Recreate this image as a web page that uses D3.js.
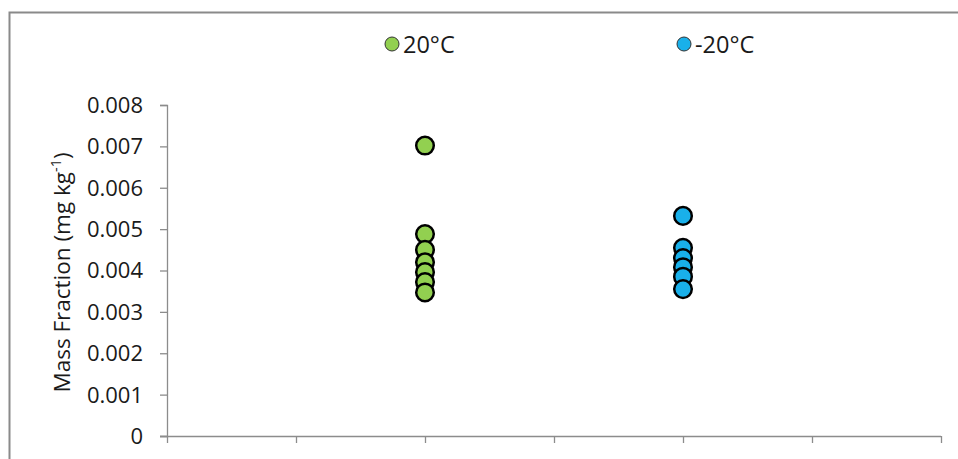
<!DOCTYPE html>
<html>
<head>
<meta charset="utf-8">
<script src="https://cdn.jsdelivr.net/npm/d3@7"></script>
<style>
  html, body { margin: 0; padding: 0; background: #fff; }
  svg { display: block; }
  text { font-family: "Open Sans", "Noto Sans", sans-serif; fill: #1a1a1a; }
</style>
</head>
<body>
<svg id="chart" width="958" height="459"></svg>
<script>
// Mass fraction measurements at two storage temperatures
const seriesNames = ["20°C", "-20°C"];
const seriesX = [2, 4];
const warmValues = [0.00702, 0.00488, 0.00450, 0.00420, 0.00396, 0.00372, 0.00347];
const coldValues = [0.00532, 0.00455, 0.00430, 0.00408, 0.00385, 0.00355];
const seriesColors = ["#92d050", "#19b0ea"];
const yTicks = [0, 0.001, 0.002, 0.003, 0.004, 0.005, 0.006, 0.007, 0.008];
const xTicks = [0, 1, 2, 3, 4, 5, 6];

const svg = d3.select("#chart");
const axisColor = "#8c8c8c";

// chart frame
svg.append("path")
  .attr("d", "M9.5,459 V12.5 H958")
  .attr("fill", "none")
  .attr("stroke", "#8a8a8a")
  .attr("stroke-width", 2);

const plot = { left: 167, right: 941, top: 105, bottom: 436 };

const x = d3.scaleLinear().domain([0, 6]).range([plot.left, plot.right]);
const y = d3.scaleLinear().domain([0, 0.008]).range([plot.bottom, plot.top]);

// y axis
const yAxis = svg.append("g")
  .attr("transform", `translate(${plot.left},0)`)
  .call(d3.axisLeft(y).tickValues(yTicks).tickSize(7).tickPadding(17)
    .tickFormat(d => d === 0 ? "0" : d3.format(".3f")(d)));
yAxis.select(".domain").attr("stroke", axisColor).attr("stroke-width", 1.3);
yAxis.selectAll(".tick line").attr("stroke", axisColor).attr("stroke-width", 1.3);
yAxis.selectAll(".tick text")
  .attr("font-size", 22)
  .attr("font-family", "'Open Sans', sans-serif")
  .attr("fill", "#1a1a1a")
  .attr("dy", "0.34em");

// x axis (no labels)
const xAxis = svg.append("g")
  .attr("transform", `translate(0,${plot.bottom})`)
  .call(d3.axisBottom(x).tickValues(xTicks).tickSize(7).tickFormat(""));
xAxis.select(".domain").attr("stroke", axisColor).attr("stroke-width", 1.3)
  .attr("d", `M${plot.left - 7},0.5H${plot.right}`);
xAxis.selectAll(".tick line").attr("stroke", axisColor).attr("stroke-width", 1.3);

// y axis title
const title = svg.append("text")
  .attr("transform", `translate(70,${(plot.top + plot.bottom) / 2 + 2}) rotate(-90)`)
  .attr("text-anchor", "middle")
  .attr("font-size", 22.5);
title.append("tspan").text("Mass Fraction (mg kg");
title.append("tspan").attr("dy", -9).attr("font-size", 14.5).text("-1");
title.append("tspan").attr("dy", 9).text(")");

// points
const series = [warmValues, coldValues];
series.forEach((vals, i) => {
  svg.append("g").selectAll("circle")
    .data(vals)
    .join("circle")
    .attr("cx", x(seriesX[i]))
    .attr("cy", d => y(d))
    .attr("r", 8.8)
    .attr("fill", seriesColors[i])
    .attr("stroke", "#000")
    .attr("stroke-width", 2.5);
});

// legend
const legendPos = [{ cx: 392, tx: 403 }, { cx: 684, tx: 695 }];
seriesNames.forEach((name, i) => {
  svg.append("circle")
    .attr("cx", legendPos[i].cx).attr("cy", 44).attr("r", 7)
    .attr("fill", seriesColors[i]).attr("stroke", "#333").attr("stroke-width", 1);
  svg.append("text")
    .attr("x", legendPos[i].tx).attr("y", 53)
    .attr("font-size", 23.5)
    .text(name);
});
</script>
</body>
</html>
